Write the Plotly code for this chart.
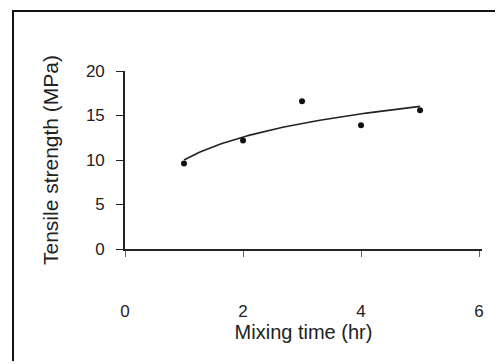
import numpy as np
import plotly.graph_objects as go

# Data
mixing_time = [1, 2, 3, 4, 5]
tensile_strength = [9.6, 12.2, 16.6, 13.9, 15.6]
x_ticks = [0, 2, 4, 6]
y_ticks = [0, 5, 10, 15, 20]

# Logarithmic trendline fitted to the data
coef = np.polyfit(np.log(mixing_time), tensile_strength, 1)
xt = np.linspace(min(mixing_time), max(mixing_time), 80)
yt = coef[0] * np.log(xt) + coef[1]

W, H = 498, 364
# page margins = where the chart-area frame (left/top) sits
ML, MT = 14, 12
PW, PH = W - ML, H - MT
# main plot area in page pixels
PX0, PX1, PY0, PY1 = 125, 482, 71, 249

FONT = "Liberation Sans, Arial, sans-serif"

fig = go.Figure()
fig.add_trace(go.Scatter(x=xt, y=yt, mode="lines",
                         line=dict(color="#222222", width=1.6),
                         hoverinfo="skip", showlegend=False))
fig.add_trace(go.Scatter(x=mixing_time, y=tensile_strength, mode="markers",
                         marker=dict(color="#111111", size=6, symbol="circle"),
                         showlegend=False))
# invisible trace on a full-page frame subplot (its axis lines draw the frame)
fig.add_trace(go.Scatter(x=[0], y=[0], xaxis="x2", yaxis="y2", mode="markers",
                         marker=dict(opacity=0), hoverinfo="skip", showlegend=False))

x_dom = [(PX0 - ML) / PW, (PX1 - ML) / PW]
y_dom = [(H - PY1) / PH, (H - PY0) / PH]

fig.update_layout(
    width=W, height=H,
    margin=dict(l=ML, r=0, t=MT, b=0, autoexpand=False),
    paper_bgcolor="white", plot_bgcolor="rgba(0,0,0,0)",
    font=dict(family=FONT, color="#222222", size=17),
    xaxis=dict(domain=x_dom, anchor="y", range=[0, 6.05], tickvals=x_ticks,
               ticks="outside", ticklen=6, tickcolor="#666666", tickwidth=1,
               showline=True, linecolor="#222222", linewidth=1.6,
               showgrid=False, zeroline=False, ticklabelstandoff=40,
               title=dict(text="Mixing time (hr)", font=dict(size=20), standoff=5),
               automargin=False),
    yaxis=dict(domain=y_dom, anchor="x", range=[0, 20], tickvals=y_ticks,
               ticks="outside", ticklen=7, tickcolor="#222222", tickwidth=1.2,
               showline=True, linecolor="#222222", linewidth=1.6,
               showgrid=False, zeroline=False, ticklabelstandoff=8,
               title=dict(text="Tensile strength (MPa)", font=dict(size=21), standoff=22),
               automargin=False),
    xaxis2=dict(domain=[0, (W - 3 - ML) / PW], anchor="y2", side="top", range=[0, 1],
                showline=True, linecolor="#111111", linewidth=2.2,
                showticklabels=False, ticks="", showgrid=False, zeroline=False,
                automargin=False),
    yaxis2=dict(domain=[3 / PH, 1], anchor="x2", side="left", range=[0, 1],
                showline=True, linecolor="#111111", linewidth=2.2,
                showticklabels=False, ticks="", showgrid=False, zeroline=False,
                automargin=False),
)

fig.write_html("out.html")
